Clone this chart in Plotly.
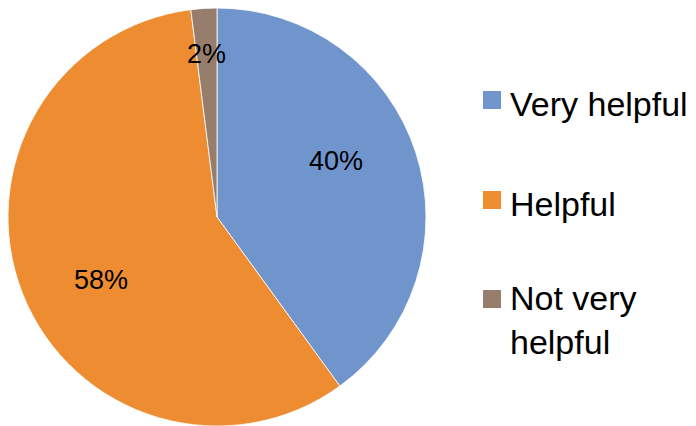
import math
import plotly.graph_objects as go

# Survey responses: how helpful respondents found the resource
labels = ["Very helpful", "Helpful", "Not very helpful"]
legend_text = ["Very helpful", "Helpful", "Not very<br>helpful"]
values = [40, 58, 2]
colors = ["#7095CD", "#ED8C31", "#977D6B"]

W, H = 696, 426
PIE_X0, PIE_X1 = 8, 426          # horizontal extent of the pie in pixels
PIE_TOP = 8                      # top of the pie in pixels
R = (PIE_X1 - PIE_X0) / 2
CX, CY = (PIE_X0 + PIE_X1) / 2, PIE_TOP + R

label_font = dict(family="Liberation Sans, Arial, sans-serif", size=27, color="black")
legend_font = dict(family="Liberation Sans, Arial, sans-serif", size=34, color="black")

fig = go.Figure()
fig.add_trace(go.Pie(
    labels=labels,
    values=values,
    sort=False,
    direction="clockwise",
    rotation=0,
    marker=dict(colors=colors, line=dict(color="white", width=0.8)),
    textinfo="none",
    domain=dict(x=[PIE_X0 / W, PIE_X1 / W], y=[0, (H - PIE_TOP) / H]),
    showlegend=False,
    hoverinfo="label+percent",
))

# Percentage labels near each slice's mid-angle; thin slices get pushed outward
total = sum(values)
start = 0.0
for v in values:
    frac = v / total
    mid = (start + frac / 2) * 2 * math.pi
    start += frac
    if frac < 0.05:
        rf, ang = 0.78, mid
    else:
        rf, ang = 0.63, mid - math.radians(7)
    px = CX + R * rf * math.sin(ang)
    py = CY - R * rf * math.cos(ang)
    fig.add_annotation(
        xref="paper", yref="paper", x=px / W, y=1 - py / H,
        xanchor="center", yanchor="middle",
        text=f"{round(frac * 100)}%", showarrow=False, font=label_font,
    )

# Legend drawn beside the pie: a colour square and the category name
sq_x0, sq_size = 483, 18
sq_centers = [100, 200, 299]
text_centers = [104, 204, 320]
for txt, col, yc, ty in zip(legend_text, colors, sq_centers, text_centers):
    fig.add_shape(
        type="rect", xref="paper", yref="paper",
        x0=sq_x0 / W, x1=(sq_x0 + sq_size) / W,
        y0=1 - (yc + sq_size / 2) / H, y1=1 - (yc - sq_size / 2) / H,
        fillcolor=col, line=dict(width=0),
    )
    fig.add_annotation(
        xref="paper", yref="paper", x=508 / W, y=1 - ty / H,
        xanchor="left", yanchor="middle", align="left",
        text=txt, showarrow=False, font=legend_font,
    )

fig.update_layout(
    width=W, height=H,
    margin=dict(l=0, r=0, t=0, b=0),
    paper_bgcolor="white",
    plot_bgcolor="white",
)

fig.write_html("out.html")
